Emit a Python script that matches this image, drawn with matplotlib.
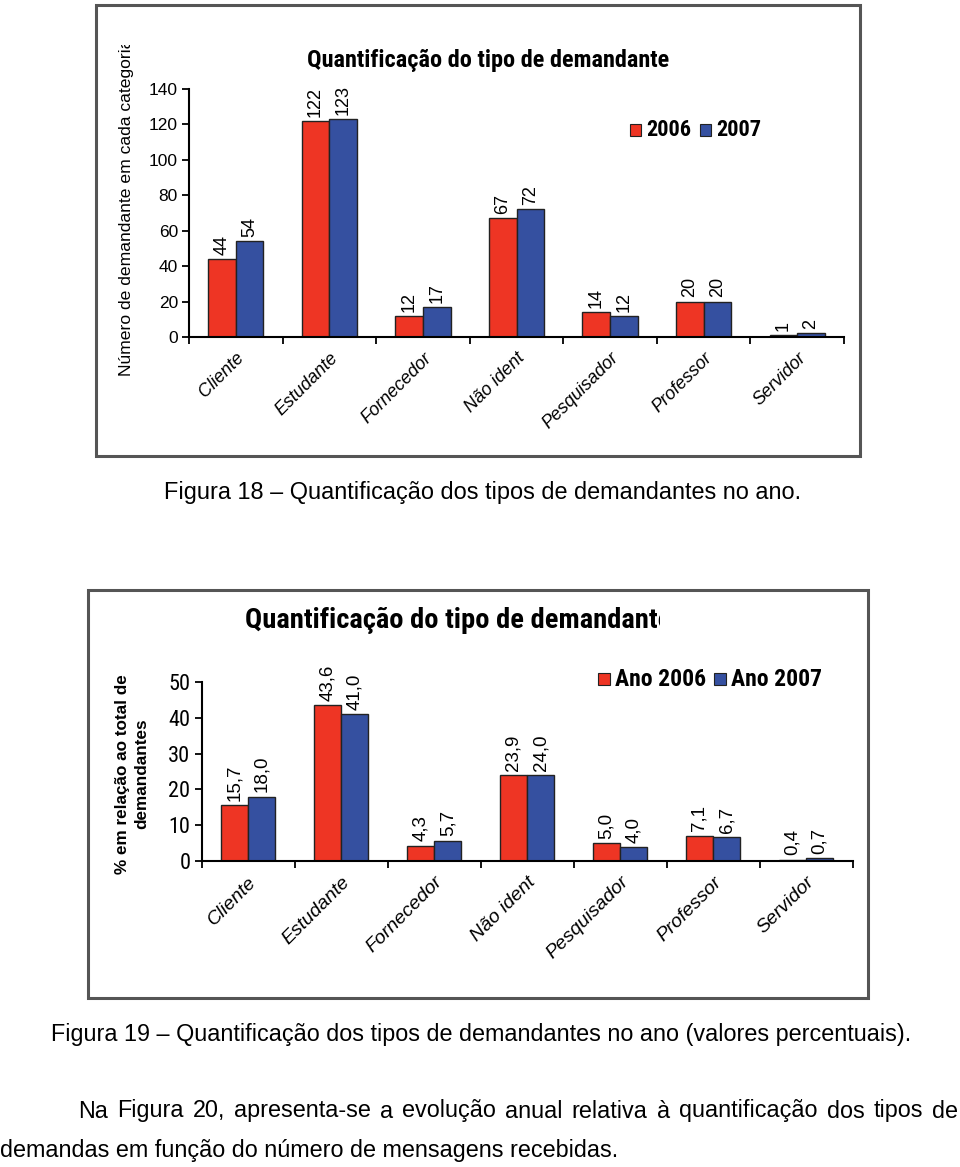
import matplotlib
matplotlib.use("Agg")
import matplotlib.pyplot as plt
from matplotlib.patches import Rectangle
from matplotlib.transforms import Bbox, TransformedBbox, ScaledTranslation
import numpy as np

# ---- data ----
categorias = ["Cliente", "Estudante", "Fornecedor", "Não ident", "Pesquisador", "Professor", "Servidor"]
qtd_2006 = [44, 122, 12, 67, 14, 20, 1]
qtd_2007 = [54, 123, 17, 72, 12, 20, 2]
pct_2006 = [15.7, 43.6, 4.3, 23.9, 5.0, 7.1, 0.4]
pct_2007 = [18.0, 41.0, 5.7, 24.0, 4.0, 6.7, 0.7]

W, H = 960, 1167
RED = "#EE3524"
BLUE = "#3550A0"
NARROW = ["Roboto Condensed", "DejaVu Sans"]
SANS = ["Liberation Sans", "DejaVu Sans"]

plt.rcParams["font.family"] = SANS

fig = plt.figure(figsize=(W / 100, H / 100), dpi=100)


def fx(x):
    return x / W


def fy(y):
    return 1 - y / H


def clip_box(x0, y0, x1, y1):
    # pixel box (top-left origin) -> display bbox
    return TransformedBbox(Bbox.from_extents(fx(x0), fy(y1), fx(x1), fy(y0)), fig.transFigure)


def frame(x0, y0, x1, y1):
    fig.patches.append(Rectangle((fx(x0), fy(y1)), fx(x1) - fx(x0), fy(y0) - fy(y1),
                                 transform=fig.transFigure, fill=False,
                                 edgecolor="#555555", linewidth=2.2))


def bar_chart(left, right, top, bottom, v1, v2, ymax, ystep, fmt,
              tick_font, tick_size, val_size, cat_size, shift):
    ax = fig.add_axes([fx(left), fy(bottom), fx(right) - fx(left), fy(top) - fy(bottom)])
    x = np.arange(len(categorias))
    w = 0.295
    ax.bar(x - w / 2, v1, w, color=RED, edgecolor="#222222", linewidth=1.0)
    ax.bar(x + w / 2, v2, w, color=BLUE, edgecolor="#222222", linewidth=1.0)
    for xi, a, b in zip(x, v1, v2):
        ax.annotate(fmt(a), (xi - w / 2, a), xytext=(0, 3), textcoords="offset points",
                    rotation=90, ha="center", va="bottom", fontsize=val_size)
        ax.annotate(fmt(b), (xi + w / 2, b), xytext=(0, 3), textcoords="offset points",
                    rotation=90, ha="center", va="bottom", fontsize=val_size)
    ax.set_xlim(-0.5, len(categorias) - 0.5)
    ax.set_ylim(0, ymax)
    ax.set_yticks(np.arange(0, ymax + 1, ystep))
    for lab in ax.get_yticklabels():
        lab.set_fontfamily(tick_font)
        lab.set_fontsize(tick_size)
    ax.set_xticks(x)
    ax.set_xticklabels(categorias, rotation=45, ha="right", va="top",
                       rotation_mode="anchor", style="italic", fontsize=cat_size)
    off = ScaledTranslation(shift[0] / 100, shift[1] / 100, fig.dpi_scale_trans)
    for lab in ax.get_xticklabels():
        lab.set_transform(lab.get_transform() + off)
    ax.set_xticks(np.arange(-0.5, len(categorias)), minor=True)
    ax.tick_params(axis="x", which="major", length=0, pad=9)
    ax.tick_params(axis="x", which="minor", length=5, width=1.3, direction="out")
    ax.tick_params(axis="y", length=5, width=1.3, direction="out", pad=3)
    for s in ("top", "right"):
        ax.spines[s].set_visible(False)
    for s in ("left", "bottom"):
        ax.spines[s].set_linewidth(1.5)
    ax.patch.set_alpha(0)
    return ax


def legend(x, y, labels, size, sq):
    xs = x
    for lab, col, off in labels:
        fig.patches.append(Rectangle((fx(xs), fy(y + sq / 2)), fx(sq), sq / H,
                                     transform=fig.transFigure, facecolor=col,
                                     edgecolor="#222222", linewidth=0.8))
        fig.text(fx(xs + sq + 5), fy(y), lab, fontsize=size, fontweight="bold",
                 family=NARROW, ha="left", va="center")
        xs += off


# ---- chart 1 ----
frame(96, 5, 860, 456)
bar_chart(189, 844, 89, 337, qtd_2006, qtd_2007, 140, 20, lambda v: f"{v}",
          SANS, 12.5, 13, 13, (-9, -3))
fig.text(fx(488), fy(61), "Quantificação do tipo de demandante", fontsize=17.5,
         fontweight="bold", family=NARROW, ha="center", va="center")
legend(630, 130, [("2006", RED, 70), ("2007", BLUE, 70)], 16, 11)
t = fig.text(fx(127), fy(376), "Número de demandante em cada categoria", fontsize=12.6,
             rotation=90, rotation_mode="anchor", ha="left", va="center")
t.set_clip_on(True)
t.set_clip_box(clip_box(0, 45, W, H))

# ---- chart 2 ----
frame(88, 590, 868, 998)
bar_chart(201.5, 852.5, 682, 861, pct_2006, pct_2007, 50, 10,
          lambda v: f"{v:.1f}".replace(".", ","), NARROW, 16, 13.5, 14, (-10, -6))
t = fig.text(fx(245), fy(621), "Quantificação do tipo de demandante", fontsize=20.5,
             fontweight="bold", family=NARROW, ha="left", va="center")
t.set_clip_on(True)
t.set_clip_box(clip_box(0, 0, 660, H))
legend(598, 679, [("Ano 2006", RED, 116), ("Ano 2007", BLUE, 116)], 17, 12)
fig.text(fx(132), fy(774), "% em relação ao total de\ndemandantes", fontsize=12.3,
         fontweight="bold", rotation=90, ha="center", va="center",
         multialignment="center", linespacing=1.4)

# ---- captions / body text ----
fig.text(fx(483), fy(493), "Figura 18 – Quantificação dos tipos de demandantes no ano.",
         fontsize=16.9, ha="center", va="center")
fig.text(fx(481), fy(1034),
         "Figura 19 – Quantificação dos tipos de demandantes no ano (valores percentuais).",
         fontsize=16.8, ha="center", va="center")

# justified first line of paragraph
renderer = fig.canvas.get_renderer()
line1 = "Na Figura 20, apresenta-se a evolução anual relativa à quantificação dos tipos de".split()
words = [fig.text(0, fy(1111), wd, fontsize=16.8, ha="left", va="center") for wd in line1]
widths = [wd.get_window_extent(renderer).width for wd in words]
x0, x1 = 78, 958
gap = (x1 - x0 - sum(widths)) / (len(words) - 1)
xc = x0
for wd, wdt in zip(words, widths):
    wd.set_x(fx(xc))
    xc += wdt + gap
fig.text(fx(0), fy(1150), "demandas em função do número de mensagens recebidas.",
         fontsize=16.8, ha="left", va="center")

fig.savefig("out.png", dpi=100, facecolor="white")
